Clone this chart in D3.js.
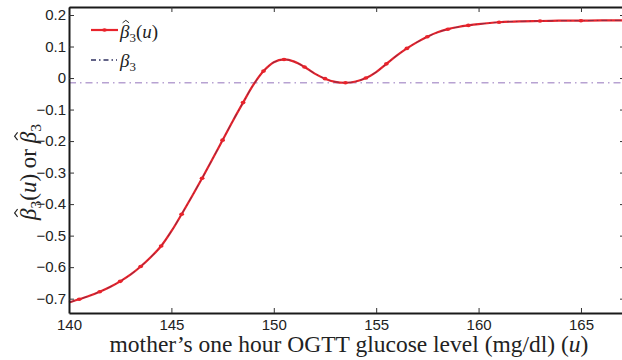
<!DOCTYPE html>
<html><head><meta charset="utf-8">
<script src="https://cdn.jsdelivr.net/npm/d3@7"></script>
<style>body{margin:0;background:#fff}svg{display:block}</style>
</head><body>
<svg id="c" width="622" height="360"></svg>
<script>
// ---- data ----
const uVals = [140.0,140.5,141.0,141.5,142.0,142.5,143.0,143.5,144.0,144.5,145.0,145.5,146.0,146.5,147.0,147.5,148.0,148.5,149.0,149.5,150.0,150.5,151.0,151.5,152.0,152.5,153.0,153.5,154.0,154.5,155.0,155.5,156.0,156.5,157.0,157.5,158.0,158.5,159.0,159.5,160.0,161.0,162.0,163.0,164.0,165.0,166.0,167.2];
const betaHat = [-0.712,-0.702,-0.691,-0.678,-0.663,-0.645,-0.624,-0.598,-0.568,-0.533,-0.486,-0.432,-0.376,-0.318,-0.258,-0.197,-0.136,-0.078,-0.022,0.022,0.050,0.059,0.052,0.035,0.014,-0.002,-0.012,-0.015,-0.011,0.000,0.019,0.045,0.071,0.094,0.114,0.131,0.145,0.155,0.162,0.167,0.171,0.177,0.180,0.181,0.182,0.182,0.183,0.183];
const betaConst = -0.015;
const xTicks = [140,145,150,155,160,165];
const yTicks = [0.2,0.1,0,-0.1,-0.2,-0.3,-0.4,-0.5,-0.6,-0.7];
const xTitle = "mother\u2019s one hour OGTT glucose level (mg/dl) ";

// ---- scales ----
const svg = d3.select("#c");
const x = d3.scaleLinear().domain([140,167.15]).range([69,625]);
const y = d3.scaleLinear().domain([-0.7455,0.2254]).range([313,7]);
const pts = uVals.map((u,i)=>[u,betaHat[i]]);

const RED = "#e8232b", NAVY = "#2f3160", LAV = "#b7a2d2";

// constant line
svg.append("line")
  .attr("x1", x(140)).attr("x2", x(167.15))
  .attr("y1", y(betaConst)).attr("y2", y(betaConst))
  .attr("stroke", LAV).attr("stroke-width", 1.5)
  .attr("stroke-dasharray", "7,4,1.5,4");

const line = d3.line().x(d=>x(d[0])).y(d=>y(d[1])).curve(d3.curveCatmullRom);
svg.append("path").datum(pts).attr("d", line)
  .attr("fill","none").attr("stroke", RED).attr("stroke-width", 2.2);
svg.append("path").datum(pts).attr("d", line)
  .attr("fill","none").attr("stroke", NAVY).attr("stroke-width", 1).attr("stroke-opacity",0.5)
  .attr("stroke-dasharray","6,3,1.5,3");
svg.append("g").selectAll("ellipse").data(pts.filter((d,i)=>i%2===1)).join("ellipse")
  .attr("cx", d=>x(d[0])).attr("cy", d=>y(d[1])).attr("rx", 2.4).attr("ry", 1.8).attr("fill", RED);

// ---- axes / frame ----
const tickFont = "'Liberation Sans', Arial, sans-serif";
function style(g){
  g.select(".domain").attr("stroke","#1a1a1a").attr("stroke-width",2);
  g.selectAll(".tick line").attr("stroke","#333");
  g.selectAll(".tick text").attr("font-family",tickFont).attr("font-size",15).attr("fill","#222");
}
svg.append("g").attr("transform","translate(0,313)")
  .call(d3.axisBottom(x).tickValues(xTicks).tickSize(-5).tickSizeOuter(0).tickPadding(6).tickFormat(d3.format("d")))
  .call(style);
svg.append("g").attr("transform","translate(0,7)")
  .call(d3.axisTop(x).tickValues(xTicks).tickSize(-5).tickSizeOuter(0).tickFormat(""))
  .call(style);
svg.append("g").attr("transform","translate(69,0)")
  .call(d3.axisLeft(y).tickValues(yTicks).tickSize(-5).tickSizeOuter(0).tickPadding(3).tickFormat(d=>d===0?"0":d3.format(".1f")(d)))
  .call(style);
svg.append("g").attr("transform","translate(625,0)")
  .call(d3.axisRight(y).tickValues(yTicks).tickSize(-5).tickSizeOuter(0).tickFormat(""))
  .call(style);

// ---- math-ish text helper: parts [{t, it, sub, hat}] ----
const serif = "'Liberation Serif','Times New Roman',serif";
function mathText(g, x0, y0, fs, parts, anchor){
  const t = g.append("text").attr("x",x0).attr("y",y0).attr("font-family",serif)
    .attr("font-size",fs).attr("fill","#222").attr("text-anchor",anchor||"start");
  let sub = false;
  const hats = [];
  parts.forEach(p=>{
    const s = t.append("tspan").text(p.t);
    if (p.it) s.attr("font-style","italic");
    if (p.sub && !sub){ s.attr("font-size",fs*0.68).attr("dy",fs*0.2); sub = true; }
    else if (p.sub) s.attr("font-size",fs*0.68);
    else if (sub){ s.attr("dy",-fs*0.2); sub = false; }
    if (p.hat) hats.push(s);
  });
  hats.forEach(s=>{
    const b = s.node().getBBox();
    const cx = b.x + b.width*0.62, top = y0 - fs*0.80, w = fs*0.17, h = fs*0.13;
    g.append("path").attr("d",`M${cx-w},${top}L${cx},${top-h}L${cx+w},${top}`)
      .attr("fill","none").attr("stroke","#222").attr("stroke-width",fs*0.05);
  });
  return t;
}

// ---- legend ----
svg.append("line").attr("x1",91).attr("x2",118).attr("y1",30).attr("y2",30).attr("stroke",RED).attr("stroke-width",2.2);
svg.append("ellipse").attr("cx",104.5).attr("cy",30).attr("rx",2.4).attr("ry",1.8).attr("fill",RED);
svg.append("line").attr("x1",91).attr("x2",117).attr("y1",60).attr("y2",60).attr("stroke",NAVY).attr("stroke-width",1.5).attr("stroke-dasharray","5,3,1.5,3");
mathText(svg, 120, 38, 19, [{t:"\u03B2",it:1,hat:1},{t:"3",sub:1},{t:"("},{t:"u",it:1},{t:")"}]);
mathText(svg, 120, 67, 19, [{t:"\u03B2",it:1},{t:"3",sub:1}]);

// ---- axis titles ----
mathText(svg, 349, 352, 23.5, [{t:xTitle+"("},{t:"u",it:1},{t:")"}], "middle");

const yg = svg.append("g").attr("transform","translate(36,172) rotate(-90)");
mathText(yg, 0, 0, 23, [{t:"\u03B2",it:1,hat:1},{t:"3",sub:1},{t:"("},{t:"u",it:1},{t:") or "},{t:"\u03B2",it:1,hat:1},{t:"3",sub:1}], "middle");
</script>
</body></html>
